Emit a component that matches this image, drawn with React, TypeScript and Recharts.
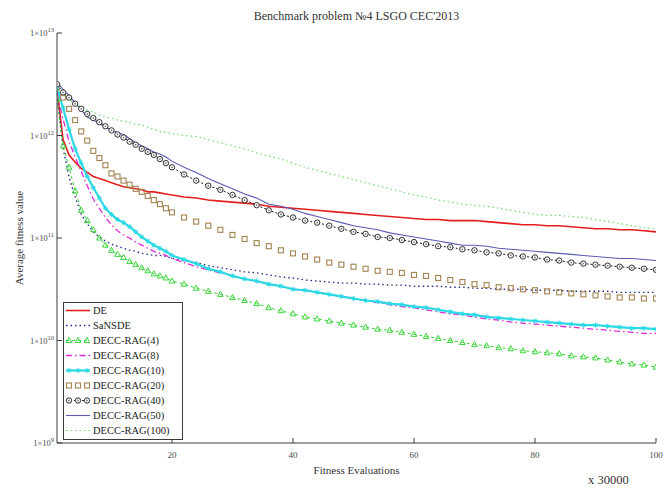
import { LineChart, Line, XAxis, YAxis } from "recharts";

const FONT = '"Liberation Serif", "DejaVu Serif", serif';
const AXIS = "#3a3a3a";
const TXT = "#4a4a4a";

const title = "Benchmark problem №4 LSGO CEC'2013";
const xLabel = "Fitness Evaluations";
const yLabel = "Average fitness value";
const xScaleNote = "x 30000";

const xTicks = [20, 40, 60, 80, 100];
const yTicks = [1e9, 1e10, 1e11, 1e12, 1e13];

// checkpoints, in units of 30000 evaluations
const evals = [
  1, 2, 3, 4, 5, 6, 7, 8, 9, 10, 11, 12, 13, 14, 15, 16, 17, 18, 19, 20,
  22, 24, 26, 28, 30, 32, 34, 36, 38, 40,
  42, 44, 46, 48, 50, 52, 54, 56, 58, 60,
  62, 64, 66, 68, 70, 72, 74, 76, 78, 80,
  82, 84, 86, 88, 90, 92, 94, 96, 98, 100,
];

// average fitness, kept as log10(value)
const de = [
  12.45, 11.96, 11.81, 11.74, 11.68, 11.64, 11.6, 11.58, 11.56, 11.54, 11.52, 11.5, 11.49, 11.48, 11.47, 11.45, 11.45, 11.44, 11.43, 11.42,
  11.4, 11.39, 11.37, 11.36, 11.35, 11.34, 11.33, 11.31, 11.3, 11.29,
  11.28, 11.27, 11.26, 11.25, 11.24, 11.23, 11.22, 11.21, 11.2, 11.19,
  11.18, 11.18, 11.17, 11.17, 11.17, 11.16, 11.15, 11.14, 11.13, 11.13,
  11.12, 11.12, 11.11, 11.1, 11.09, 11.09, 11.08, 11.08, 11.07, 11.06,
];
const sansde = [
  12.4, 11.88, 11.59, 11.4, 11.23, 11.14, 11.06, 11.01, 10.97, 10.94, 10.92, 10.9, 10.88, 10.87, 10.85, 10.84, 10.83, 10.83, 10.82, 10.8,
  10.78, 10.76, 10.73, 10.71, 10.69, 10.67, 10.66, 10.64, 10.62, 10.61,
  10.59, 10.58, 10.57, 10.56, 10.56, 10.55, 10.55, 10.54, 10.54, 10.53,
  10.53, 10.53, 10.52, 10.52, 10.51, 10.51, 10.5, 10.5, 10.5, 10.49,
  10.49, 10.49, 10.48, 10.48, 10.48, 10.48, 10.47, 10.47, 10.47, 10.47,
];
const rag4 = [
  12.35, 11.9, 11.69, 11.46, 11.27, 11.17, 11.08, 11.0, 10.93, 10.88, 10.84, 10.81, 10.77, 10.74, 10.71, 10.68, 10.65, 10.63, 10.61, 10.58,
  10.55, 10.51, 10.48, 10.45, 10.42, 10.39, 10.36, 10.32, 10.29, 10.26,
  10.23, 10.21, 10.19, 10.17, 10.15, 10.13, 10.11, 10.1, 10.08, 10.06,
  10.04, 10.02, 10.0, 9.98, 9.96, 9.95, 9.93, 9.92, 9.9, 9.89,
  9.88, 9.87, 9.85, 9.84, 9.83, 9.81, 9.79, 9.77, 9.76, 9.74,
];
const rag8 = [
  12.4, 12.16, 11.94, 11.79, 11.65, 11.51, 11.38, 11.29, 11.2, 11.13, 11.07, 11.03, 11.0, 10.96, 10.93, 10.9, 10.87, 10.85, 10.83, 10.8,
  10.76, 10.72, 10.69, 10.66, 10.63, 10.6, 10.58, 10.55, 10.53, 10.5,
  10.49, 10.47, 10.45, 10.43, 10.41, 10.39, 10.37, 10.35, 10.33, 10.32,
  10.3, 10.28, 10.26, 10.25, 10.23, 10.21, 10.2, 10.18, 10.17, 10.16,
  10.15, 10.14, 10.13, 10.12, 10.11, 10.1, 10.09, 10.08, 10.07, 10.07,
];
const rag10 = [
  12.47, 12.27, 12.06, 11.87, 11.73, 11.6, 11.49, 11.39, 11.29, 11.23, 11.18, 11.15, 11.11, 11.06, 11.01, 10.97, 10.93, 10.9, 10.87, 10.83,
  10.79, 10.75, 10.7, 10.67, 10.63, 10.6, 10.58, 10.55, 10.53, 10.5,
  10.49, 10.47, 10.45, 10.43, 10.41, 10.39, 10.38, 10.36, 10.35, 10.33,
  10.32, 10.3, 10.28, 10.26, 10.25, 10.23, 10.22, 10.21, 10.2, 10.19,
  10.18, 10.17, 10.16, 10.15, 10.15, 10.14, 10.13, 10.12, 10.12, 10.11,
];
const rag20 = [
  12.47, 12.37, 12.26, 12.15, 12.04, 11.95, 11.85, 11.78, 11.71, 11.63, 11.6, 11.56, 11.52, 11.48, 11.45, 11.41, 11.37, 11.33, 11.29, 11.25,
  11.2, 11.16, 11.12, 11.08, 11.03, 10.99, 10.95, 10.92, 10.88, 10.85,
  10.82, 10.79, 10.76, 10.74, 10.72, 10.7, 10.68, 10.67, 10.66, 10.64,
  10.63, 10.61, 10.59, 10.57, 10.55, 10.54, 10.52, 10.51, 10.5, 10.49,
  10.48, 10.47, 10.46, 10.45, 10.44, 10.43, 10.42, 10.42, 10.41, 10.41,
];
const rag40 = [
  12.5, 12.42, 12.37, 12.31, 12.26, 12.21, 12.17, 12.13, 12.09, 12.05, 12.01, 11.98, 11.94, 11.91, 11.87, 11.84, 11.81, 11.77, 11.73, 11.69,
  11.62, 11.56, 11.51, 11.47, 11.42, 11.37, 11.32, 11.27, 11.23, 11.2,
  11.17, 11.15, 11.12, 11.09, 11.06, 11.04, 11.01, 11.0, 10.98, 10.96,
  10.94, 10.92, 10.91, 10.89, 10.88, 10.86, 10.85, 10.83, 10.82, 10.81,
  10.79, 10.78, 10.76, 10.75, 10.74, 10.73, 10.72, 10.71, 10.7, 10.69,
];
const rag50 = [
  12.52, 12.45, 12.39, 12.32, 12.25, 12.18, 12.15, 12.12, 12.08, 12.05, 12.03, 12.01, 11.97, 11.93, 11.9, 11.87, 11.84, 11.82, 11.79, 11.75,
  11.69, 11.64, 11.58, 11.53, 11.48, 11.43, 11.39, 11.33, 11.31, 11.28,
  11.24, 11.21, 11.18, 11.15, 11.12, 11.1, 11.08, 11.05, 11.03, 11.01,
  10.99, 10.97, 10.95, 10.93, 10.93, 10.92, 10.9, 10.89, 10.88, 10.87,
  10.86, 10.85, 10.84, 10.83, 10.82, 10.81, 10.8, 10.8, 10.79, 10.78,
];
const rag100 = [
  12.45, 12.4, 12.35, 12.31, 12.28, 12.25, 12.23, 12.2, 12.18, 12.17, 12.15, 12.14, 12.13, 12.11, 12.1, 12.08, 12.06, 12.04, 12.03, 12.02,
  12.0, 11.99, 11.96, 11.93, 11.9, 11.87, 11.83, 11.8, 11.77, 11.73,
  11.69, 11.66, 11.63, 11.6, 11.57, 11.54, 11.51, 11.48, 11.45, 11.42,
  11.4, 11.37, 11.35, 11.33, 11.32, 11.31, 11.29, 11.27, 11.25, 11.23,
  11.22, 11.22, 11.21, 11.2, 11.18, 11.16, 11.14, 11.12, 11.1, 11.09,
];

type Kind = "tri" | "sq" | "circ" | "star" | null;

const series: { key: string; label: string; values: number[]; color: string; width: number; dash?: string; line: boolean; marker: Kind }[] = [
  { key: "de", label: "DE", values: de, color: "#e41e1e", width: 1.6, line: true, marker: null },
  { key: "sansde", label: "SaNSDE", values: sansde, color: "#2b2b8c", width: 1.4, dash: "1.5 3", line: true, marker: null },
  { key: "rag4", label: "DECC-RAG(4)", values: rag4, color: "#3ad63a", width: 1, dash: "3 3", line: true, marker: "tri" },
  { key: "rag8", label: "DECC-RAG(8)", values: rag8, color: "#e02ad8", width: 1.3, dash: "6 3 1.5 3", line: true, marker: null },
  { key: "rag10", label: "DECC-RAG(10)", values: rag10, color: "#2ad9e4", width: 2.2, line: true, marker: "star" },
  { key: "rag20", label: "DECC-RAG(20)", values: rag20, color: "#a3824f", width: 1, line: false, marker: "sq" },
  { key: "rag40", label: "DECC-RAG(40)", values: rag40, color: "#1a1a1a", width: 1, dash: "2 2", line: true, marker: "circ" },
  { key: "rag50", label: "DECC-RAG(50)", values: rag50, color: "#5a5ab4", width: 1.1, line: true, marker: null },
  { key: "rag100", label: "DECC-RAG(100)", values: rag100, color: "#6ee06e", width: 1.2, dash: "1.5 3", line: true, marker: null },
];

const data = evals.map((x, i) => {
  const row: Record<string, number> = { x };
  series.forEach((s) => {
    row[s.key] = Math.pow(10, s.values[i]);
  });
  return row;
});

const Marker = ({ kind, cx, cy, color }: { kind: Kind; cx: number; cy: number; color: string }) => {
  if (kind === "tri")
    return <polygon points={`${cx},${cy - 3.1} ${cx + 2.8},${cy + 2} ${cx - 2.8},${cy + 2}`} fill="none" stroke={color} strokeWidth={1} />;
  if (kind === "sq") return <rect x={cx - 2.5} y={cy - 2.5} width={5} height={5} fill="none" stroke={color} strokeWidth={1.1} />;
  if (kind === "circ")
    return (
      <g>
        <circle cx={cx} cy={cy} r={2.7} fill="#fff" stroke={color} strokeWidth={0.9} />
        <circle cx={cx} cy={cy} r={0.9} fill="#777" />
      </g>
    );
  if (kind === "star")
    return (
      <g stroke={color} strokeWidth={1}>
        <line x1={cx - 2.5} x2={cx + 2.5} y1={cy} y2={cy} />
        <line x1={cx} x2={cx} y1={cy - 2.5} y2={cy + 2.5} />
        <line x1={cx - 1.8} x2={cx + 1.8} y1={cy - 1.8} y2={cy + 1.8} />
        <line x1={cx - 1.8} x2={cx + 1.8} y1={cy + 1.8} y2={cy - 1.8} />
      </g>
    );
  return null;
};

const YTickLeft = (props: any) => {
  const { x, y, payload } = props;
  const exp = Math.round(Math.log10(payload.value));
  return (
    <g>
      <line x1={x + 3} x2={x + 8} y1={y} y2={y} stroke={AXIS} />
      <text x={x} y={y} dy={3} textAnchor="end" fontSize={8.5} fill={TXT} fontFamily={FONT}>
        1×10<tspan dy={-4} fontSize={6.5}>{exp}</tspan>
      </text>
    </g>
  );
};

const YTickRight = (props: any) => {
  const { x, y } = props;
  return <line x1={x} x2={x - 5} y1={y} y2={y} stroke={AXIS} />;
};

const XTickBottom = (props: any) => {
  const { x, y, payload } = props;
  return (
    <g>
      <line x1={x} x2={x} y1={y - 6} y2={y - 11} stroke={AXIS} />
      <text x={x} y={y} dy={9} textAnchor="middle" fontSize={9} fill={TXT} fontFamily={FONT}>
        {payload.value}
      </text>
    </g>
  );
};

const XTickTop = (props: any) => {
  const { x, y } = props;
  return <line x1={x} x2={x} y1={y} y2={y + 5} stroke={AXIS} />;
};

const LegendBox = () => (
  <div
    style={{
      position: "absolute",
      left: 63,
      top: 302,
      width: 118,
      height: 136,
      border: `1px solid ${AXIS}`,
      background: "#fff",
      fontFamily: FONT,
      fontSize: 10.5,
      color: "#222",
    }}
  >
    {series.map((s) => (
      <div key={s.key} style={{ display: "flex", alignItems: "center", height: 15 }}>
        <svg width={28} height={15} style={{ flex: "none" }}>
          {s.line && <line x1={2} x2={26} y1={7.5} y2={7.5} stroke={s.color} strokeWidth={s.width} strokeDasharray={s.dash} />}
          {s.marker && [5, 14, 23].map((cx) => <Marker key={cx} kind={s.marker} cx={cx} cy={7.5} color={s.color} />)}
        </svg>
        <span style={{ marginLeft: 1, whiteSpace: "nowrap" }}>{s.label}</span>
      </div>
    ))}
  </div>
);

export default function App() {
  return (
    <div style={{ position: "absolute", left: 0, top: 0, width: 671, height: 489, background: "#fff" }}>
      <div
        style={{
          position: "absolute",
          left: 57,
          top: 9,
          width: 599,
          textAlign: "center",
          fontFamily: FONT,
          fontSize: 12,
          color: "#333",
          whiteSpace: "nowrap",
        }}
      >
        {title}
      </div>
      <LineChart width={671} height={489} data={data} margin={{ top: 33, right: 15, bottom: 0, left: 0 }}>
        <XAxis
          dataKey="x"
          type="number"
          domain={[1, 100]}
          allowDataOverflow
          ticks={xTicks}
          tickSize={0}
          tickMargin={6}
          tick={<XTickBottom />}
          height={46}
          axisLine={{ stroke: AXIS }}
          label={{ value: xLabel, position: "insideBottom", offset: 15, style: { fontSize: 11, fill: "#333", fontFamily: FONT } }}
        />
        <XAxis
          xAxisId="top"
          orientation="top"
          type="number"
          domain={[1, 100]}
          allowDataOverflow
          ticks={xTicks}
          tickSize={0}
          tickMargin={0}
          tick={<XTickTop />}
          height={0}
          axisLine={{ stroke: AXIS }}
        />
        <YAxis
          type="number"
          scale="log"
          domain={[1e9, 1e13]}
          allowDataOverflow
          ticks={yTicks}
          tickSize={0}
          tickMargin={3}
          tick={<YTickLeft />}
          width={57}
          axisLine={{ stroke: AXIS }}
          label={{ value: yLabel, angle: -90, position: "insideLeft", offset: 19, style: { textAnchor: "middle", fontSize: 11, fill: "#333", fontFamily: FONT } }}
        />
        <YAxis
          yAxisId="right"
          orientation="right"
          type="number"
          scale="log"
          domain={[1e9, 1e13]}
          allowDataOverflow
          ticks={yTicks}
          tickSize={0}
          tickMargin={0}
          tick={<YTickRight />}
          width={0}
          axisLine={{ stroke: AXIS }}
        />
        {series.map((s) => (
          <Line
            key={s.key}
            dataKey={s.key}
            type="linear"
            stroke={s.line ? s.color : "none"}
            strokeWidth={s.width}
            strokeDasharray={s.dash}
            dot={s.marker ? (p: any) => <Marker key={`${s.key}-${p.index}`} kind={s.marker} cx={p.cx} cy={p.cy} color={s.color} /> : false}
            activeDot={false}
            isAnimationActive={false}
          />
        ))}
      </LineChart>
      <LegendBox />
      <div style={{ position: "absolute", left: 588, top: 473, fontFamily: FONT, fontSize: 12.5, color: "#333" }}>{xScaleNote}</div>
    </div>
  );
}
